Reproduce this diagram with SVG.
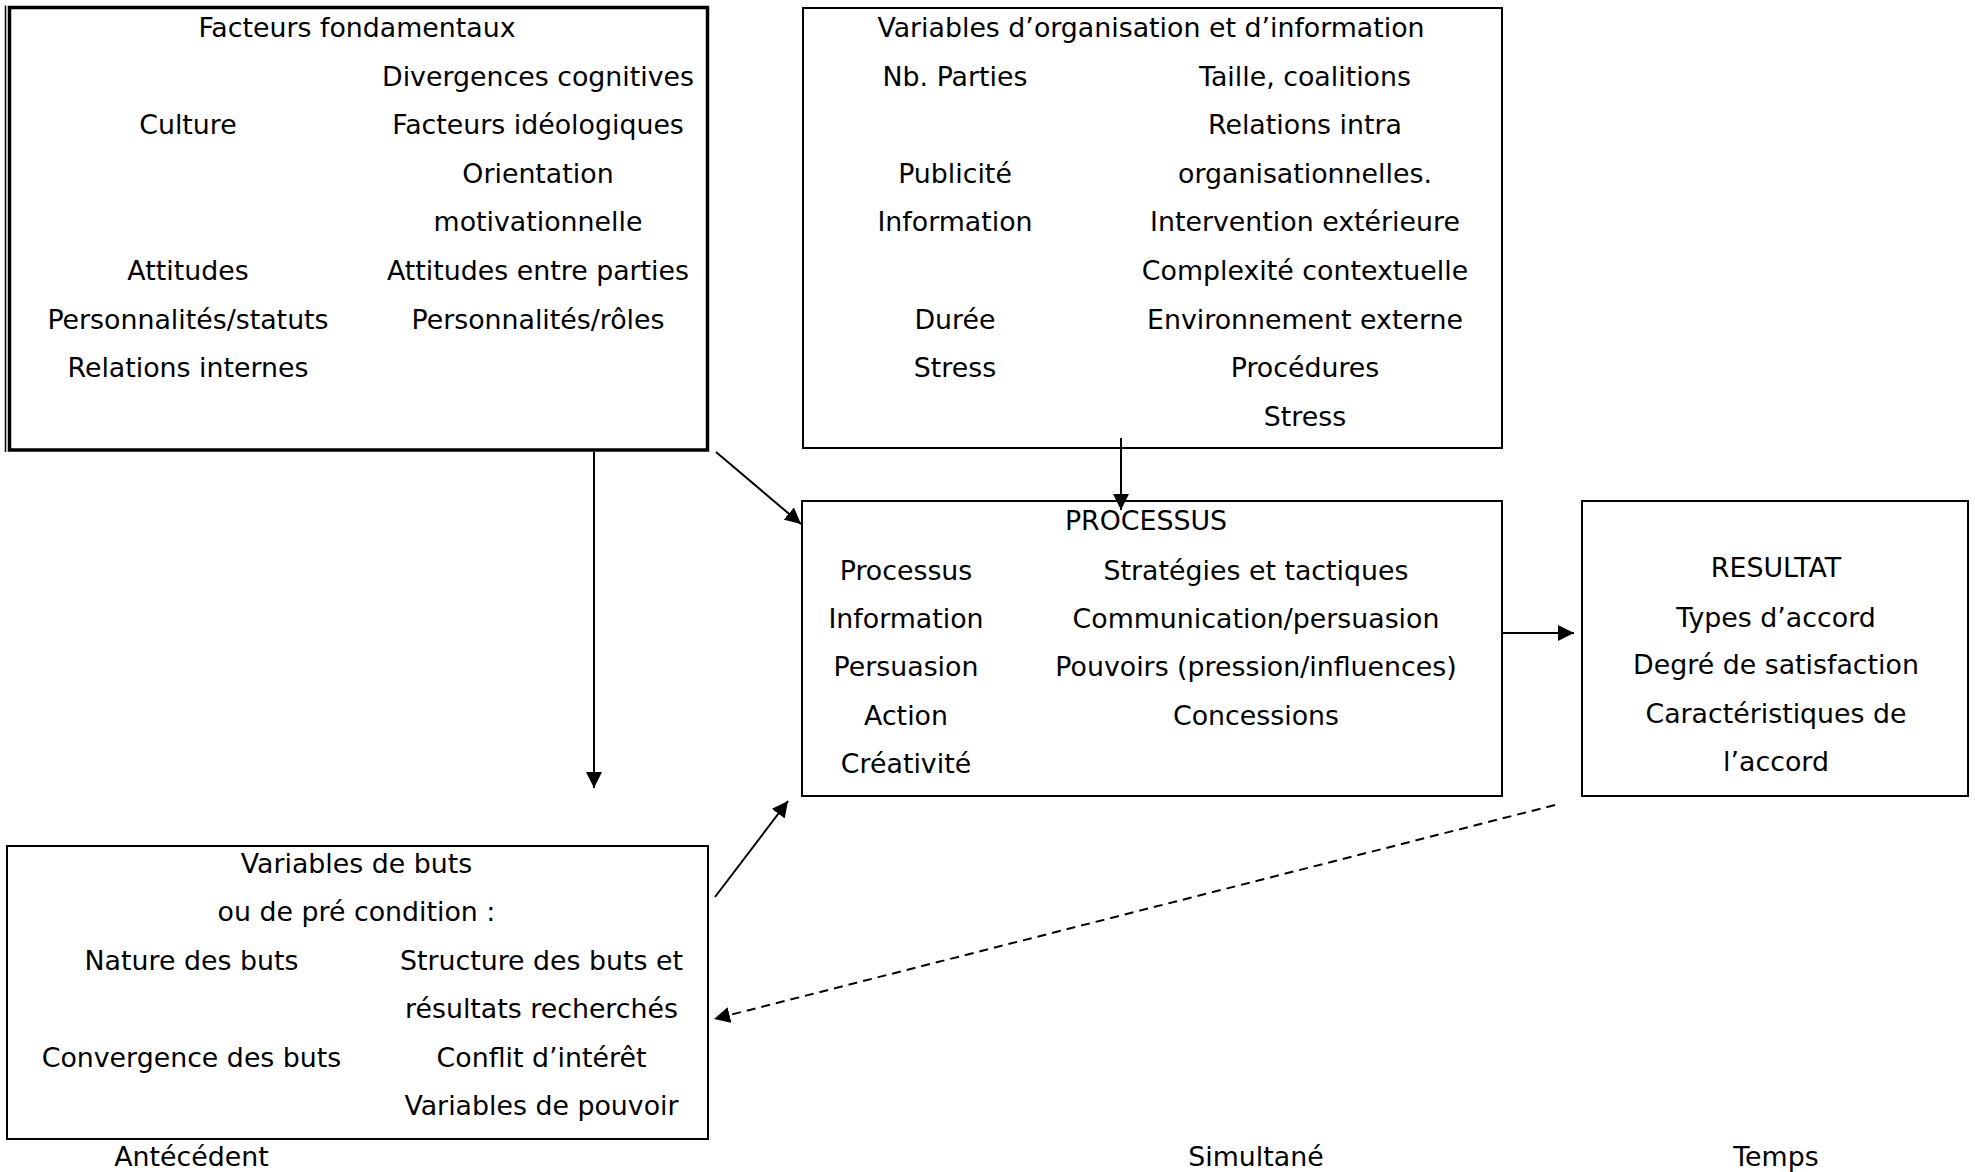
<svg xmlns="http://www.w3.org/2000/svg" width="1975" height="1172" viewBox="0 0 1975 1172">
<style>
  text { font-family: "DejaVu Sans", Verdana, sans-serif; font-size: 26.8px; fill: #000; text-anchor: middle; }
  .box { fill: #fff; stroke: #000; stroke-width: 2; }
  .thick { fill: #fff; stroke: #000; stroke-width: 3.5; }
  .conn { fill: none; stroke: #000; stroke-width: 2; }
  .dash { stroke-dasharray: 9 6; }
</style>
<defs>
  <marker id="arr" markerUnits="userSpaceOnUse" markerWidth="18" markerHeight="16" refX="16" refY="8" orient="auto">
    <path d="M0,0 L16,8 L0,16 Z" fill="#000"/>
  </marker>
</defs>
<rect width="1975" height="1172" fill="#fff"/>

<g id="facteurs">
  <line x1="5.5" y1="5.5" x2="5.5" y2="452" stroke="#000" stroke-width="1.5"/>
  <rect class="thick" x="9.5" y="7.5" width="698" height="442.5"/>
  <text x="357" y="37">Facteurs fondamentaux</text>
  <text x="538" y="85.6">Divergences cognitives</text>
  <text x="188" y="134.2">Culture</text>
  <text x="538" y="134.2">Facteurs idéologiques</text>
  <text x="538" y="182.8">Orientation</text>
  <text x="538" y="231.4">motivationnelle</text>
  <text x="188" y="280">Attitudes</text>
  <text x="538" y="280">Attitudes entre parties</text>
  <text x="188" y="328.6">Personnalités/statuts</text>
  <text x="538" y="328.6">Personnalités/rôles</text>
  <text x="188" y="377.2">Relations internes</text>
</g>

<g id="organisation">
  <rect class="box" x="803" y="8" width="699" height="440"/>
  <text x="1151" y="37">Variables d’organisation et d’information</text>
  <text x="955" y="85.6">Nb. Parties</text>
  <text x="1305" y="85.6">Taille, coalitions</text>
  <text x="1305" y="134.2">Relations intra</text>
  <text x="955" y="182.8">Publicité</text>
  <text x="1305" y="182.8">organisationnelles.</text>
  <text x="955" y="231.4">Information</text>
  <text x="1305" y="231.4">Intervention extérieure</text>
  <text x="1305" y="280">Complexité contextuelle</text>
  <text x="955" y="328.6">Durée</text>
  <text x="1305" y="328.6">Environnement externe</text>
  <text x="955" y="377.2">Stress</text>
  <text x="1305" y="377.2">Procédures</text>
  <text x="1305" y="425.8">Stress</text>
</g>

<g id="processus">
  <rect class="box" x="802" y="501" width="700" height="295"/>
  <text x="1146" y="529.5">PROCESSUS</text>
  <text x="906" y="580">Processus</text>
  <text x="1256" y="580">Stratégies et tactiques</text>
  <text x="906" y="628">Information</text>
  <text x="1256" y="628">Communication/persuasion</text>
  <text x="906" y="675.6">Persuasion</text>
  <text x="1256" y="675.6">Pouvoirs (pression/influences)</text>
  <text x="906" y="724.7">Action</text>
  <text x="1256" y="724.7">Concessions</text>
  <text x="906" y="772.6">Créativité</text>
</g>

<g id="resultat">
  <rect class="box" x="1582" y="501" width="386" height="295"/>
  <text x="1776" y="577">RESULTAT</text>
  <text x="1776" y="626.5">Types d’accord</text>
  <text x="1776" y="674">Degré de satisfaction</text>
  <text x="1776" y="723.4">Caractéristiques de</text>
  <text x="1776" y="771">l’accord</text>
</g>

<g id="buts">
  <rect class="box" x="7" y="846" width="701" height="293"/>
  <text x="356.5" y="873">Variables de buts</text>
  <text x="356.5" y="921">ou de pré condition :</text>
  <text x="191.5" y="970">Nature des buts</text>
  <text x="541.5" y="970">Structure des buts et</text>
  <text x="541.5" y="1018">résultats recherchés</text>
  <text x="191.5" y="1067">Convergence des buts</text>
  <text x="541.5" y="1067">Conflit d’intérêt</text>
  <text x="541.5" y="1115">Variables de pouvoir</text>
</g>

<g id="axis-labels">
  <text x="191.5" y="1165.5">Antécédent</text>
  <text x="1256" y="1165.5">Simultané</text>
  <text x="1776" y="1165.5">Temps</text>
</g>

<g id="connectors">
  <line class="conn" x1="594" y1="452" x2="594" y2="788" marker-end="url(#arr)"/>
  <line class="conn" x1="716" y1="452" x2="801" y2="524" marker-end="url(#arr)"/>
  <line class="conn" x1="1121" y1="438" x2="1121" y2="510" marker-end="url(#arr)"/>
  <line class="conn" x1="715" y1="897" x2="788" y2="801" marker-end="url(#arr)"/>
  <line class="conn" x1="1503" y1="633" x2="1574" y2="633" stroke-width="2.5" marker-end="url(#arr)"/>
  <line class="conn dash" x1="1555" y1="805" x2="714" y2="1019" marker-end="url(#arr)"/>
</g>
</svg>
